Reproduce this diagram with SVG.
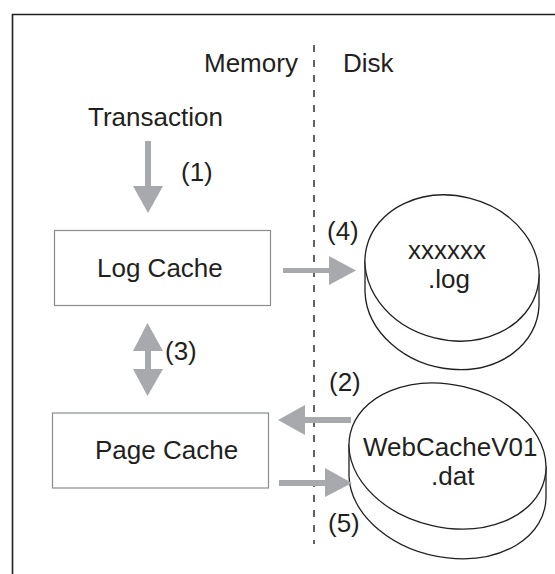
<svg xmlns="http://www.w3.org/2000/svg" width="555" height="574" viewBox="0 0 555 574">
<style>
text{font-family:"Liberation Sans",Arial,sans-serif;font-size:26px;fill:#231f20}
.box{fill:#fff;stroke:#8a8c8e;stroke-width:1.2}
.disk{fill:#fff;stroke:#231f20;stroke-width:1.3}
.arrow{fill:#a7a9ac;stroke:none}
</style>
<rect width="555" height="574" fill="#fff"/>
<path id="frame" d="M12.5 574V14.500H555" fill="none" stroke="#231f20" stroke-width="1.6"/>
<line id="divider" x1="314" y1="45" x2="314" y2="544" stroke="#231f20" stroke-width="1.4" stroke-dasharray="7 8"/>
<text x="204" y="72">Memory</text>
<text x="343" y="72">Disk</text>
<text x="88" y="126">Transaction</text>
<g id="log-cache"><rect class="box" x="54.5" y="230.5" width="216" height="75"/><text x="97" y="277">Log Cache</text></g>
<g id="page-cache"><rect class="box" x="52.5" y="413" width="216" height="75"/><text x="95" y="459">Page Cache</text></g>
<g id="log-disk">
<path class="disk" d="M365 261.1V292.1A87.9 72 14 0 0 539 305.9V274.9Z"/>
<ellipse class="disk" cx="452" cy="268" rx="87.9" ry="72" transform="rotate(14 452 268)"/>
<text x="408" y="259">xxxxxx</text><text x="428" y="288">.log</text>
</g>
<g id="dat-disk">
<path class="disk" d="M349 445V476A99.8 71.2 13.2 0 0 546 498V467Z"/>
<ellipse class="disk" cx="447.5" cy="456" rx="99.8" ry="71.2" transform="rotate(13.2 447.5 456)"/>
<text x="363" y="456">WebCacheV01</text><text x="431" y="485">.dat</text>
</g>
<g id="connectors">
<path class="arrow" d="M145 141H151V186H163L148 213L133 186H145Z"/>
<path class="arrow" d="M147.500 323L163 351H151V369H163L147.500 396L133 369H145V351H133Z"/>
<path class="arrow" d="M283 268H329V256L356 270.500L329 285V273H283Z"/>
<path class="arrow" d="M351 417H305V405L278 420L305 435V423H351Z"/>
<path class="arrow" d="M279 480H325V468L352 483L325 497V486H279Z"/>
</g>
<text x="181" y="181">(1)</text>
<text x="165" y="360">(3)</text>
<text x="327" y="240">(4)</text>
<text x="329" y="391">(2)</text>
<text x="328" y="532">(5)</text>
</svg>
